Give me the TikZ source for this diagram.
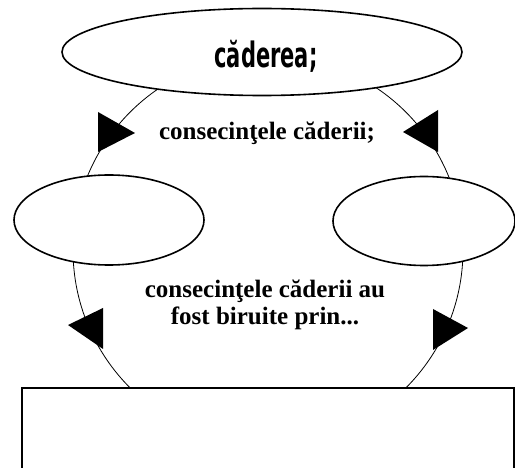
\documentclass[tikz,border=0pt]{standalone}
\usepackage{fontspec}
\setmainfont{Liberation Serif}
\newfontfamily\headfont{DejaVu Sans}
\usetikzlibrary{shapes.geometric}
\begin{document}
\begin{tikzpicture}[x=1pt,y=-1pt,
  oval/.style={ellipse, draw, line width=1.6pt, fill=white, inner sep=0pt},
  ring/.style={circle, draw, line width=0.8pt, inner sep=0pt},
  box/.style={rectangle, draw, line width=1.3pt, fill=white, inner sep=0pt},
  flag/.style={fill=black},
  lbl/.style={font=\bfseries\fontsize{25}{27}\selectfont, align=center, inner sep=0pt}]
\clip (0,0) rectangle (515,468);
\node[ring, minimum size=390pt] (ring) at (268,250) {};
\node[oval, minimum width=400pt, minimum height=87pt] (top) at (262,52) {};
\node (toplabel) at (266,56)
  {\scalebox{0.6}[1]{\headfont\bfseries\fontsize{35}{35}\selectfont căderea;}};
\node[oval, minimum width=190pt, minimum height=90pt] (left) at (109,220) {};
\node[oval, minimum width=182pt, minimum height=89pt] (right) at (424,221) {};
\node[box, minimum width=492pt, minimum height=102pt] (bottom) at (268,439) {};
\fill[flag] (98,112) -- (98,152) -- (135,133) -- cycle;
\fill[flag] (438,110) -- (438,152) -- (403,132) -- cycle;
\fill[flag] (103,308) -- (103,349) -- (68,325) -- cycle;
\fill[flag] (433,309) -- (433,350) -- (468,328) -- cycle;
\node[lbl] (l1) at (267,133) {consecinţele căderii;};
\node[lbl] (l2) at (265,305) {consecinţele căderii au\\fost biruite prin...};
\end{tikzpicture}
\end{document}
